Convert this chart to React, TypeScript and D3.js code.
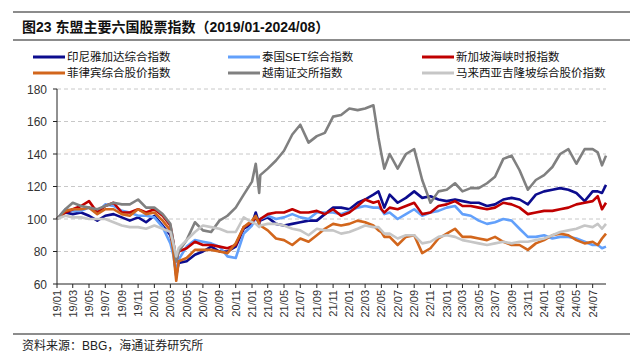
import React from "react";
import * as d3 from "d3";

const title = "图23 东盟主要六国股票指数（2019/01-2024/08）";
const source = "资料来源：BBG，海通证券研究所";

const dates = [
  "2019-01-01","2019-02-01","2019-03-01","2019-04-01","2019-05-01","2019-06-01","2019-07-01","2019-08-01","2019-09-01","2019-10-01","2019-11-01","2019-12-01",
  "2020-01-01","2020-02-01","2020-03-01","2020-03-12","2020-03-23","2020-04-01","2020-05-01","2020-06-01","2020-07-01","2020-08-01","2020-09-01","2020-10-01","2020-11-01","2020-12-01",
  "2021-01-01","2021-01-15","2021-01-28","2021-02-01","2021-03-01","2021-04-01","2021-05-01","2021-06-01","2021-07-01","2021-08-01","2021-09-01","2021-10-01","2021-11-01","2021-12-01",
  "2022-01-01","2022-02-01","2022-03-01","2022-04-01","2022-04-20","2022-05-01","2022-05-12","2022-06-01","2022-07-01","2022-08-01","2022-09-01","2022-10-01","2022-11-01","2022-12-01",
  "2023-01-01","2023-02-01","2023-03-01","2023-04-01","2023-05-01","2023-06-01","2023-07-01","2023-08-01","2023-09-01","2023-10-01","2023-11-01","2023-12-01",
  "2024-01-01","2024-02-01","2024-03-01","2024-04-01","2024-05-01","2024-06-01","2024-07-01","2024-07-20","2024-08-05","2024-08-20",
];

const indonesia = [
  100,104,103,104,102,99,102,103,101,99,101,98,
  102,96,90,82,65,73,74,78,80,83,80,80,83,94,
  97,104,97,99,101,97,96,97,98,99,99,103,107,107,
  106,110,112,115,117,112,107,115,110,113,117,113,114,112,
  111,112,111,110,110,108,109,112,113,112,109,115,
  117,118,119,118,116,111,117,117,116,121,
];
const thailand = [
  100,106,105,105,107,104,109,108,105,104,102,102,
  101,95,85,78,66,75,83,87,86,85,83,77,76,91,
  96,101,97,100,102,100,101,103,101,100,104,104,104,103,
  105,107,108,107,107,106,103,104,100,103,106,102,104,105,
  107,108,103,102,99,97,98,100,99,94,89,89,
  90,88,89,89,88,86,84,84,82,83,
];
const singapore = [
  100,104,106,108,111,104,108,110,104,104,106,104,
  106,102,96,86,74,80,82,86,84,84,83,82,84,95,
  98,101,98,100,103,104,104,106,104,104,105,103,106,102,
  104,108,112,110,111,106,104,107,106,108,110,103,104,108,
  109,111,108,108,107,106,107,110,109,107,103,104,
  105,105,106,107,109,110,111,114,106,110,
];
const philippines = [
  100,105,106,106,107,103,106,106,103,102,106,103,
  104,99,93,80,62,74,76,81,81,81,80,79,85,95,
  99,102,97,96,93,88,87,84,88,86,90,94,97,96,
  97,99,98,96,93,92,89,89,84,89,90,79,82,88,
  91,94,89,89,88,87,89,86,84,84,81,85,
  87,90,91,90,87,85,86,84,88,91,
];
const vietnam = [
  100,106,110,108,107,106,108,110,109,109,112,107,
  107,103,97,86,74,80,87,98,93,92,99,102,107,115,
  123,134,116,127,131,136,142,152,158,147,151,153,163,164,
  168,167,168,170,150,140,131,140,131,140,143,124,110,117,
  118,122,117,119,119,122,126,137,139,130,118,124,
  127,132,140,143,134,143,143,141,133,139,
];
const malaysia = [
  100,102,101,101,100,100,100,98,96,95,95,94,
  96,94,92,85,77,82,87,92,96,95,94,92,92,101,
  98,97,95,96,97,97,96,94,93,90,94,93,93,91,
  92,94,96,95,95,93,91,91,88,90,90,85,86,89,
  90,89,87,86,85,84,85,86,85,86,86,87,
  88,90,92,93,94,96,95,97,94,97,
];

const seriesNames = [
  "印尼雅加达综合指数",
  "泰国SET综合指数",
  "新加坡海峡时报指数",
  "菲律宾综合股价指数",
  "越南证交所指数",
  "马来西亚吉隆坡综合股价指数",
];
const seriesValues = [indonesia, thailand, singapore, philippines, vietnam, malaysia];
const seriesColors = ["#0c0c8e", "#62a0fb", "#c00000", "#d2661c", "#808080", "#c6c6c6"];

const yTicks = [60, 80, 100, 120, 140, 160, 180];

const W = 634;
const H = 357;
const plot = { left: 57, right: 606, top: 89, bottom: 284 };

export default function App() {
  const parse = d3.timeParse("%Y-%m-%d");
  const dts = dates.map((d) => parse(d) as Date);
  const x = d3
    .scaleTime()
    .domain([dts[0], dts[dts.length - 1]])
    .range([plot.left, plot.right]);
  const y = d3.scaleLinear().domain([60, 180]).range([plot.bottom, plot.top]);
  const xTicks = d3.timeMonth.every(2)!.range(parse("2019-01-01") as Date, parse("2024-07-02") as Date);
  const fmt = d3.timeFormat("%y/%m");
  const line = d3
    .line<number>()
    .x((_, i) => x(dts[i]))
    .y((v) => y(v));

  const cjk = "'Noto Sans CJK SC', 'Noto Sans', sans-serif";
  const latin = "'Liberation Sans', Arial, sans-serif";

  const legendCols = [33, 228, 422];
  const legendRows = [57, 73];

  return (
    <div style={{ position: "absolute", left: 0, top: 0 }}>
      <svg width={W} height={H} style={{ display: "block", background: "#fff" }}>
        <line x1={13} x2={630} y1={12} y2={12} stroke="#666" strokeWidth={1.5} />
        <text x={22} y={32} fontSize={14} fontWeight="bold" fill="#111" fontFamily={`${latin}, ${cjk}`}>
          {title}
        </text>
        <line x1={13} x2={630} y1={40} y2={40} stroke="#666" strokeWidth={1.5} />

        {seriesNames.map((n, i) => {
          const cx = legendCols[i % 3];
          const cy = legendRows[Math.floor(i / 3)];
          return (
            <g key={n}>
              <line x1={cx} x2={cx + 32} y1={cy} y2={cy} stroke={seriesColors[i]} strokeWidth={3} />
              <text x={cx + 34} y={cy + 4} fontSize={11.5} fill="#111" fontFamily={`${latin}, ${cjk}`}>
                {n}
              </text>
            </g>
          );
        })}

        {yTicks.filter((t) => t !== 60).map((t) => (
          <line
            key={"g" + t}
            x1={plot.left}
            x2={plot.right}
            y1={y(t)}
            y2={y(t)}
            stroke="#c8c8c8"
            strokeWidth={1}
            strokeDasharray="4,3"
          />
        ))}

        {seriesValues.map((vals, i) => (
          <path
            key={seriesNames[i]}
            d={line(vals) || ""}
            fill="none"
            stroke={seriesColors[i]}
            strokeWidth={2.6}
            strokeLinejoin="round"
          />
        ))}

        <line x1={plot.left} x2={plot.left} y1={plot.top} y2={plot.bottom} stroke="#222" strokeWidth={1} />
        {yTicks.map((t) => (
          <g key={"y" + t}>
            <line x1={plot.left - 4} x2={plot.left} y1={y(t)} y2={y(t)} stroke="#222" />
            <text
              x={plot.left - 10}
              y={y(t) + 4.5}
              textAnchor="end"
              fontSize={12}
              fill="#333"
              fontFamily={latin}
            >
              {t}
            </text>
          </g>
        ))}

        <line x1={plot.left} x2={plot.right} y1={plot.bottom} y2={plot.bottom} stroke="#222" strokeWidth={1} />
        {xTicks.map((d) => {
          const px = x(d);
          return (
            <g key={d.toISOString()}>
              <line x1={px} x2={px} y1={plot.bottom} y2={plot.bottom + 4} stroke="#222" />
              <text
                transform={`translate(${px + 4},${plot.bottom + 6}) rotate(-90)`}
                textAnchor="end"
                fontSize={11}
                fill="#333"
                fontFamily={latin}
              >
                {fmt(d)}
              </text>
            </g>
          );
        })}

        <line x1={13} x2={630} y1={334} y2={334} stroke="#666" strokeWidth={1.5} />
        <text x={22} y={350} fontSize={12} fill="#222" fontFamily={`${latin}, ${cjk}`}>
          {source}
        </text>
      </svg>
    </div>
  );
}
